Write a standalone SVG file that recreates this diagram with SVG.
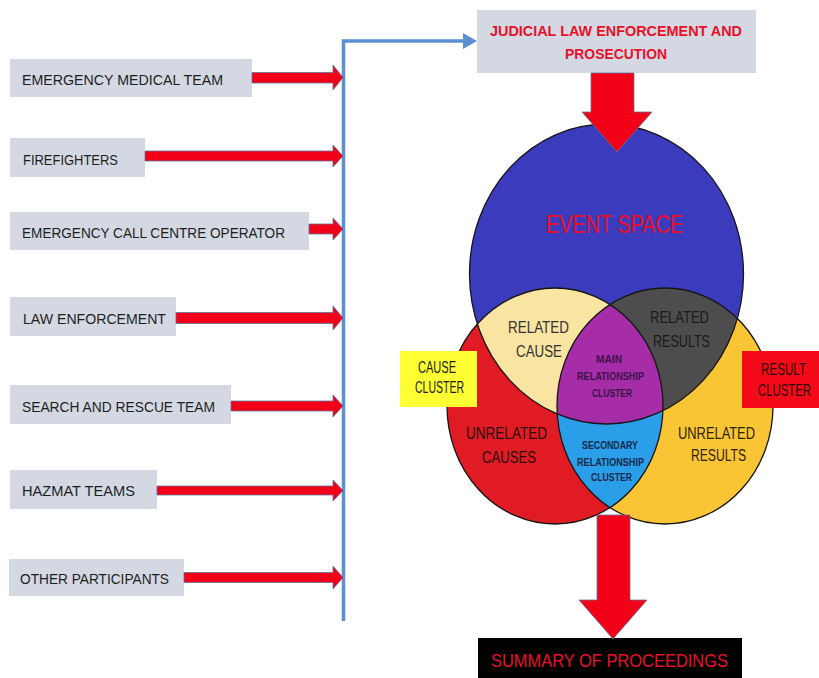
<svg xmlns="http://www.w3.org/2000/svg" width="819" height="678" viewBox="0 0 819 678">
<style>
  .lbl { fill: #d3d8e2; }
  .ltxt { font-family: "Liberation Sans", Arial, sans-serif; font-size: 15px; fill: #1e1e1e; }
  .rtxt { font-family: "Liberation Sans", Arial, sans-serif; fill: #e8102a; }
  .vtxt { font-family: "Liberation Sans", Arial, sans-serif; font-size: 16px; text-anchor: middle; }
  .stxt { font-family: "Liberation Sans", Arial, sans-serif; font-size: 10.5px; font-weight: bold; text-anchor: middle; }
  .rarrow { fill: #f20018; stroke: #5a76a0; stroke-width: 0.8; }
  .blue { stroke: #5b8fd3; stroke-width: 3.5; fill: none; }
  .outline { fill: none; stroke: #151515; stroke-width: 1.3; }
</style>
<defs>
  <clipPath id="cBlue"><ellipse cx="606.5" cy="274" rx="137" ry="150"/></clipPath>
  <clipPath id="cRed"><ellipse cx="555" cy="406" rx="108" ry="118"/></clipPath>
</defs>
<rect width="819" height="678" fill="#ffffff"/>

<!-- Venn diagram -->
<g id="event-space">
  <ellipse cx="606.5" cy="274" rx="137" ry="150" fill="#3b3bbd"/>
  <text class="rtxt" x="546" y="233" font-size="26" textLength="137" lengthAdjust="spacingAndGlyphs">EVENT SPACE</text>
</g>
<g id="unrelated-causes">
  <ellipse cx="555" cy="406" rx="108" ry="118" fill="#e01b24"/>
</g>
<g id="unrelated-results">
  <ellipse cx="665" cy="406" rx="108" ry="118" fill="#f9c535"/>
</g>
<g id="related-cause">
  <ellipse cx="555" cy="406" rx="108" ry="118" fill="#f9e4a2" clip-path="url(#cBlue)"/>
</g>
<g id="related-results">
  <ellipse cx="665" cy="406" rx="108" ry="118" fill="#4d4d4d" clip-path="url(#cBlue)"/>
</g>
<g id="secondary-relationship-cluster">
  <ellipse cx="665" cy="406" rx="108" ry="118" fill="#2a9ee8" clip-path="url(#cRed)"/>
</g>
<g id="main-relationship-cluster">
  <g clip-path="url(#cBlue)">
    <ellipse cx="665" cy="406" rx="108" ry="118" fill="#a62ca8" clip-path="url(#cRed)"/>
  </g>
</g>
<g id="venn-outlines">
  <ellipse class="outline" cx="606.5" cy="274" rx="137" ry="150"/>
  <ellipse class="outline" cx="555" cy="406" rx="108" ry="118"/>
  <ellipse class="outline" cx="665" cy="406" rx="108" ry="118"/>
</g>
<g id="venn-labels">
  <text class="vtxt" fill="#333333" x="538.5" y="332.5" textLength="61" lengthAdjust="spacingAndGlyphs">RELATED</text>
  <text class="vtxt" fill="#333333" x="539" y="357" textLength="46" lengthAdjust="spacingAndGlyphs">CAUSE</text>
  <text class="vtxt" fill="#1a1a1a" x="679.5" y="322.5" textLength="59" lengthAdjust="spacingAndGlyphs">RELATED</text>
  <text class="vtxt" fill="#1a1a1a" x="681.5" y="346.5" textLength="57" lengthAdjust="spacingAndGlyphs">RESULTS</text>
  <text class="stxt" fill="#3a1448" x="609" y="363" textLength="26" lengthAdjust="spacingAndGlyphs">MAIN</text>
  <text class="stxt" fill="#3a1448" x="610.5" y="380" textLength="67" lengthAdjust="spacingAndGlyphs">RELATIONSHIP</text>
  <text class="stxt" fill="#3a1448" x="612" y="397" textLength="40" lengthAdjust="spacingAndGlyphs">CLUSTER</text>
  <text class="vtxt" fill="#2a0c0c" x="506.5" y="439" textLength="81" lengthAdjust="spacingAndGlyphs">UNRELATED</text>
  <text class="vtxt" fill="#2a0c0c" x="509" y="463" textLength="54" lengthAdjust="spacingAndGlyphs">CAUSES</text>
  <text class="stxt" fill="#16294a" x="610" y="449" textLength="56" lengthAdjust="spacingAndGlyphs">SECONDARY</text>
  <text class="stxt" fill="#16294a" x="610.5" y="466" textLength="67" lengthAdjust="spacingAndGlyphs">RELATIONSHIP</text>
  <text class="stxt" fill="#16294a" x="611.5" y="481" textLength="41" lengthAdjust="spacingAndGlyphs">CLUSTER</text>
  <text class="vtxt" fill="#2e2408" x="716.5" y="439" textLength="77" lengthAdjust="spacingAndGlyphs">UNRELATED</text>
  <text class="vtxt" fill="#2e2408" x="718.5" y="461" textLength="55" lengthAdjust="spacingAndGlyphs">RESULTS</text>
</g>

<g id="cause-cluster">
  <rect x="400" y="351" width="77" height="56" fill="#ffff33"/>
  <text class="vtxt" font-size="15" fill="#222222" x="437" y="373" textLength="38" lengthAdjust="spacingAndGlyphs">CAUSE</text>
  <text class="vtxt" font-size="15" fill="#222222" x="439.5" y="393" textLength="49" lengthAdjust="spacingAndGlyphs">CLUSTER</text>
</g>
<g id="result-cluster">
  <rect x="742" y="351" width="77" height="57" fill="#f50a1a"/>
  <text class="vtxt" font-size="15" fill="#2a0808" x="783.5" y="375" textLength="45" lengthAdjust="spacingAndGlyphs">RESULT</text>
  <text class="vtxt" font-size="15" fill="#2a0808" x="784.5" y="396" textLength="53" lengthAdjust="spacingAndGlyphs">CLUSTER</text>
</g>

<!-- Left participant nodes -->
<g id="emergency-medical-team">
  <rect class="lbl" x="10" y="59" width="242" height="38"/>
  <text class="ltxt" x="22" y="85" textLength="201" lengthAdjust="spacingAndGlyphs">EMERGENCY MEDICAL TEAM</text>
</g>
<g id="firefighters">
  <rect class="lbl" x="10" y="138" width="135" height="39"/>
  <text class="ltxt" x="23" y="165" textLength="95" lengthAdjust="spacingAndGlyphs">FIREFIGHTERS</text>
</g>
<g id="emergency-call-centre-operator">
  <rect class="lbl" x="10" y="212" width="299" height="38"/>
  <text class="ltxt" x="22" y="238" textLength="263" lengthAdjust="spacingAndGlyphs">EMERGENCY CALL CENTRE OPERATOR</text>
</g>
<g id="law-enforcement">
  <rect class="lbl" x="10" y="297" width="166" height="39"/>
  <text class="ltxt" x="23" y="324" textLength="143" lengthAdjust="spacingAndGlyphs">LAW ENFORCEMENT</text>
</g>
<g id="search-and-rescue-team">
  <rect class="lbl" x="10" y="385" width="221" height="39"/>
  <text class="ltxt" x="22" y="412" textLength="193" lengthAdjust="spacingAndGlyphs">SEARCH AND RESCUE TEAM</text>
</g>
<g id="hazmat-teams">
  <rect class="lbl" x="10" y="470" width="147" height="39"/>
  <text class="ltxt" x="22" y="496" textLength="113" lengthAdjust="spacingAndGlyphs">HAZMAT TEAMS</text>
</g>
<g id="other-participants">
  <rect class="lbl" x="9" y="559" width="175" height="37"/>
  <text class="ltxt" x="20" y="584" textLength="149" lengthAdjust="spacingAndGlyphs">OTHER PARTICIPANTS</text>
</g>

<g id="judicial-law-enforcement">
  <rect class="lbl" x="477" y="10" width="279" height="63"/>
  <text class="rtxt" x="490" y="36" font-size="15" font-weight="bold" textLength="252" lengthAdjust="spacingAndGlyphs">JUDICIAL LAW ENFORCEMENT AND</text>
  <text class="rtxt" x="565" y="59" font-size="15" font-weight="bold" textLength="102" lengthAdjust="spacingAndGlyphs">PROSECUTION</text>
</g>

<g id="summary-of-proceedings">
  <rect x="478" y="638" width="264" height="40" fill="#000000"/>
  <text class="rtxt" x="491" y="667" font-size="19" textLength="237" lengthAdjust="spacingAndGlyphs">SUMMARY OF PROCEEDINGS</text>
</g>

<!-- Connectors -->
<g id="connectors">
  <path class="blue" d="M343.5 621 V41 H465"/>
  <polygon points="463,33 477,41 463,49" fill="#5b8fd3"/>
  <path class="rarrow" d="M252 72.5 H333 V65 L343 77.5 L333 90 V83 H252 Z"/>
  <path class="rarrow" d="M145 151 H333 V145 L343 156 L333 167 V161 H145 Z"/>
  <path class="rarrow" d="M309 224 H333 V218 L343 229 L333 240 V234 H309 Z"/>
  <path class="rarrow" d="M176 312.5 H333 V306 L343 318 L333 330 V323.5 H176 Z"/>
  <path class="rarrow" d="M231 401 H333 V395 L343 406 L333 417 V411 H231 Z"/>
  <path class="rarrow" d="M157 486 H333 V480 L343 490.5 L333 501 V495 H157 Z"/>
  <path class="rarrow" d="M184 572.5 H333 V566 L343 577.5 L333 589 V582.5 H184 Z"/>
  <path class="rarrow" d="M591 73 H634 V112 H652 L617 152 L582 112 H591 Z"/>
  <path class="rarrow" d="M597 515 H630 V600 H647 L613 639 L579 600 H597 Z"/>
</g>
</svg>
